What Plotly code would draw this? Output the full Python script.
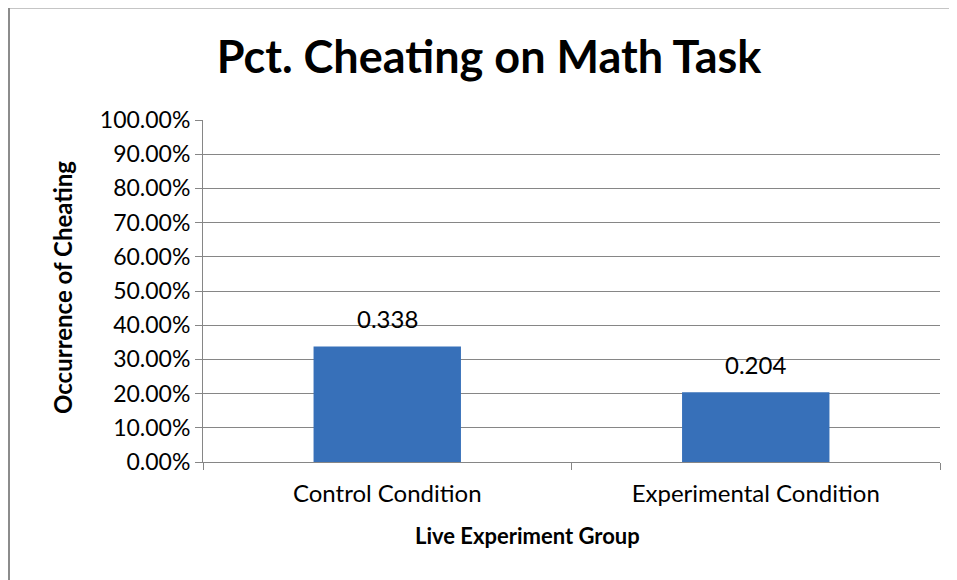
import plotly.graph_objects as go

categories = ["Control Condition", "Experimental Condition"]
values = [0.338, 0.204]
title_text = "Pct. Cheating on Math Task"
y_title = "Occurrence of Cheating"
x_title = "Live Experiment Group"

FONT = "Lato"
GRID = "#868686"

# page body has an 8px margin; figure is sized/offset for that
OFF = 8
W, H = 957 - OFF, 580 - OFF
L, T = 203 - OFF, 120 - OFF
PW = 940 - 203
PH = 462 - 120

fig = go.Figure()
fig.add_trace(go.Bar(
    x=categories, y=values,
    marker=dict(color="#3770B9", line=dict(width=0)),
    hoverinfo="skip",
))

for c, v in zip(categories, values):
    fig.add_annotation(x=c, y=v, text=f"{v:.3f}", showarrow=False,
                       yanchor="bottom", yshift=11,
                       font=dict(family=FONT, size=24, color="black"))

# axis titles
fig.add_annotation(xref="paper", yref="paper", x=(527 - 203) / PW, y=(462 - 535) / PH,
                   text=f"<b>{x_title}</b>", showarrow=False,
                   yanchor="middle", xanchor="center",
                   font=dict(family=FONT, size=22, color="black"))
fig.add_annotation(xref="paper", yref="paper", x=(62 - 203) / PW, y=(462 - 288) / PH,
                   text=f"<b>{y_title}</b>", showarrow=False, textangle=-90,
                   yanchor="middle", xanchor="center",
                   font=dict(family=FONT, size=24, color="black"))

# chart border (left and top)
x_left = (9 - 203) / PW
y_top = (462 - 7.5) / PH
fig.add_shape(type="line", xref="paper", yref="paper",
              x0=x_left, x1=x_left, y0=y_top, y1=-0.4,
              line=dict(color="#8c8c8c", width=2))
fig.add_shape(type="line", xref="paper", yref="paper",
              x0=x_left, x1=1.1, y0=y_top, y1=y_top,
              line=dict(color="#8c8c8c", width=2))

fig.update_layout(
    width=W, height=H,
    margin=dict(l=L, r=957 - 940, t=T, b=580 - 462),
    paper_bgcolor="white", plot_bgcolor="white",
    bargap=0.6,
    showlegend=False,
    title=dict(text=f"<b>{title_text}</b>", x=(489 - OFF) / W, xanchor="center",
               xref="container",
               y=1 - (57 - OFF) / H, yanchor="middle",
               font=dict(family=FONT, size=45, color="black")),
    font=dict(family=FONT, color="black"),
)
fig.update_yaxes(range=[0, 1], dtick=0.1, tick0=0, tickformat=".2%",
                 showgrid=True, gridcolor=GRID, gridwidth=1,
                 showline=True, linecolor=GRID, linewidth=1,
                 ticks="outside", ticklen=7, tickcolor=GRID,
                 tickfont=dict(family=FONT, size=23, color="black"),
                 zeroline=False, fixedrange=True)
fig.update_xaxes(showgrid=False, showline=True, linecolor=GRID, linewidth=1,
                 ticks="outside", ticklen=7, tickcolor=GRID,
                 tickson="boundaries", ticklabelstandoff=10,
                 tickfont=dict(family=FONT, size=24, color="black"),
                 fixedrange=True)

fig.write_html("out.html")
